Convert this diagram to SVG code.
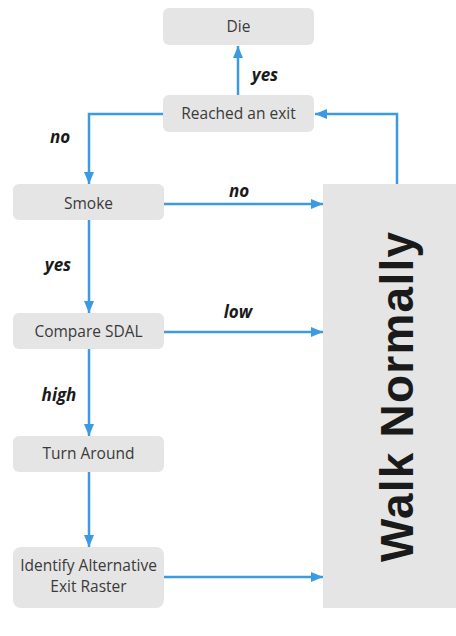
<svg xmlns="http://www.w3.org/2000/svg" width="456" height="636" viewBox="0 0 456 636">
  <style>
    .box { fill: #e5e5e5; }
    .node-text { font-family: "Open Sans", "Liberation Sans", sans-serif; font-size: 15.5px; fill: #3a3a3a; text-anchor: middle; }
    .edge { stroke: #3b9ae1; stroke-width: 2.5; fill: none; marker-end: url(#arrow); }
    .edge-label { font-family: "Open Sans", "Liberation Sans", sans-serif; font-size: 17px; font-weight: bold; font-style: italic; fill: #1a1a1a; text-anchor: middle; }
    .big-text { font-family: "Liberation Sans", Arial, sans-serif; font-size: 46px; font-weight: bold; fill: #1a1a1a; text-anchor: middle; }
  </style>
  <defs>
    <marker id="arrow" viewBox="0 0 12 10" refX="12" refY="5" markerWidth="12" markerHeight="10" markerUnits="userSpaceOnUse" orient="auto">
      <path d="M0,0 L12,5 L0,10 Z" fill="#3b9ae1"/>
    </marker>
  </defs>

  <rect width="456" height="636" fill="#ffffff"/>

  <!-- connectors -->
  <g id="connectors">
    <path class="edge" d="M238,95 L238,46"/>
    <path class="edge" d="M163,114 L89,114 L89,184"/>
    <path class="edge" d="M397,184 L397,114 L315,114"/>
    <path class="edge" d="M164,204 L323,204"/>
    <path class="edge" d="M89,220 L89,313"/>
    <path class="edge" d="M164,332 L323,332"/>
    <path class="edge" d="M89,349 L89,436"/>
    <path class="edge" d="M89,472 L89,547"/>
    <path class="edge" d="M164,577 L323,577"/>
  </g>

  <!-- edge labels -->
  <g id="labels">
    <text class="edge-label" x="265" y="81">yes</text>
    <text class="edge-label" x="60" y="143">no</text>
    <text class="edge-label" x="239" y="197">no</text>
    <text class="edge-label" x="58" y="271">yes</text>
    <text class="edge-label" x="238" y="318">low</text>
    <text class="edge-label" x="59" y="401">high</text>
  </g>

  <!-- nodes -->
  <g id="die">
    <rect class="box" x="163" y="8" width="151" height="37" rx="6"/>
    <text class="node-text" x="238.5" y="32">Die</text>
  </g>
  <g id="reached-exit">
    <rect class="box" x="163" y="95" width="151" height="37" rx="6"/>
    <text class="node-text" x="238.5" y="119">Reached an exit</text>
  </g>
  <g id="smoke">
    <rect class="box" x="13" y="184" width="151" height="36" rx="6"/>
    <text class="node-text" x="88.5" y="209">Smoke</text>
  </g>
  <g id="compare-sdal">
    <rect class="box" x="13" y="313" width="151" height="36" rx="6"/>
    <text class="node-text" x="88.5" y="337">Compare SDAL</text>
  </g>
  <g id="turn-around">
    <rect class="box" x="13" y="436" width="151" height="36" rx="6"/>
    <text class="node-text" x="88.5" y="459">Turn Around</text>
  </g>
  <g id="identify-exit">
    <rect class="box" x="13" y="547" width="151" height="61" rx="8"/>
    <text class="node-text" x="88.5" y="571">Identify Alternative</text>
    <text class="node-text" x="88.5" y="592">Exit Raster</text>
  </g>
  <g id="walk-normally">
    <rect class="box" x="323" y="184" width="133" height="424"/>
    <text class="big-text" transform="translate(413,397) rotate(-90)" x="0" y="0" textLength="330" lengthAdjust="spacing">Walk Normally</text>
  </g>
</svg>
